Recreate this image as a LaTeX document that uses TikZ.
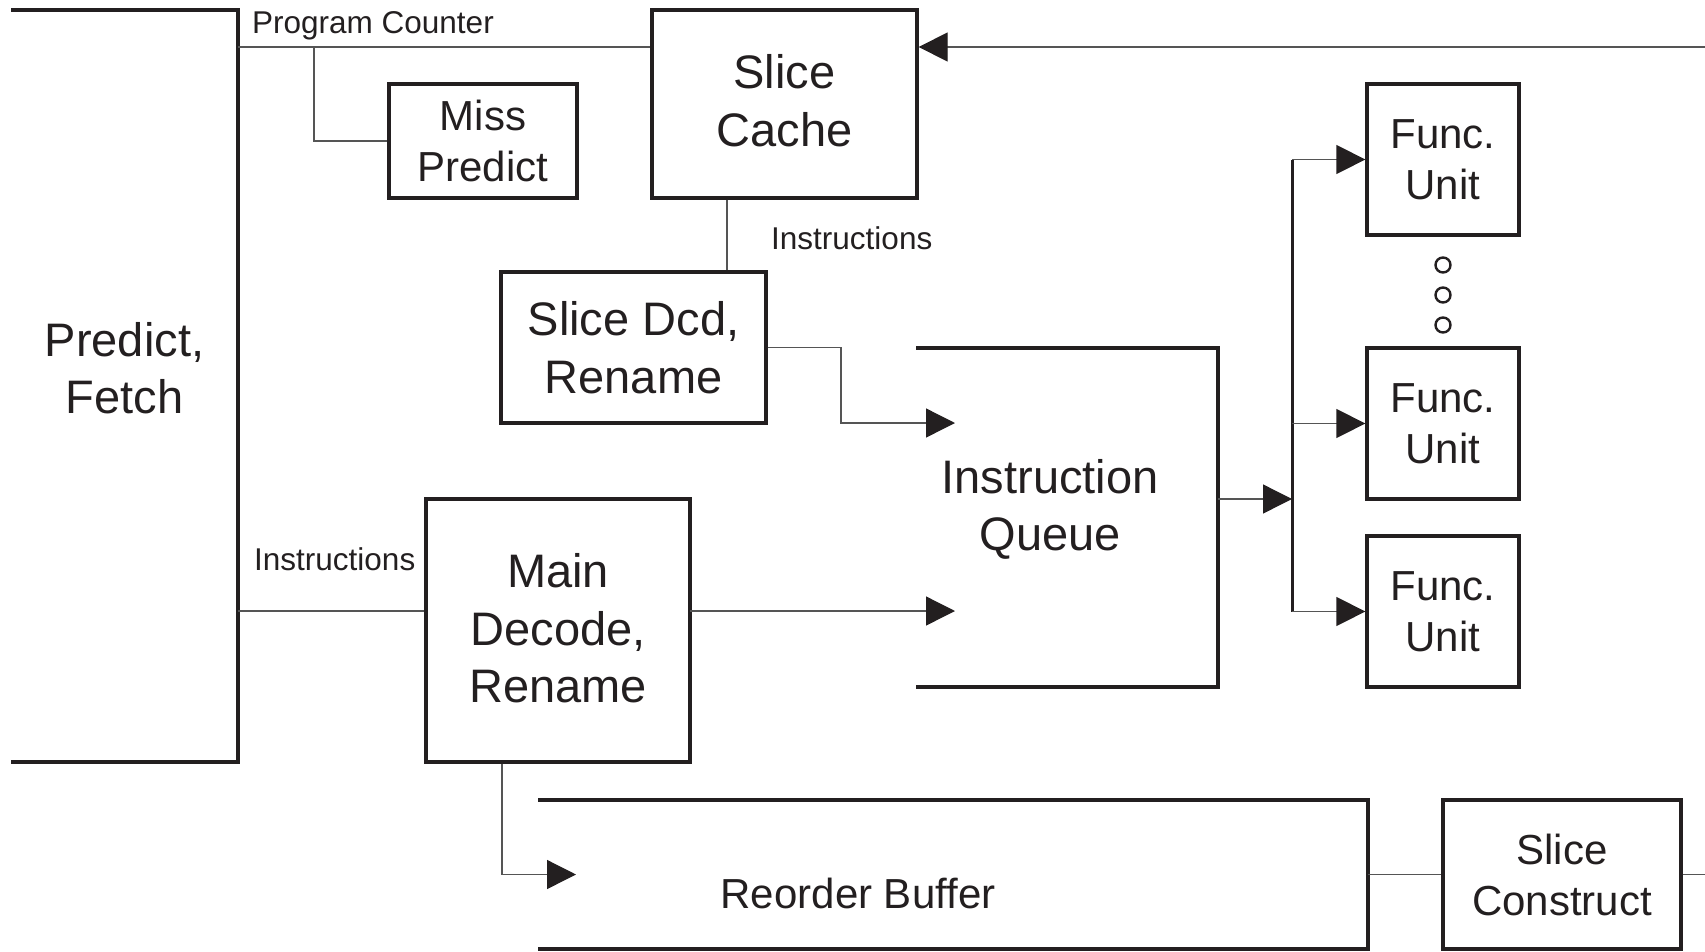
\documentclass[tikz,border=0pt]{standalone}
\usepackage{fontspec}
\setmainfont{Liberation Sans}
\usetikzlibrary{arrows.meta,calc}
\definecolor{ink}{HTML}{231F20}
\definecolor{wirec}{HTML}{555555}
\tikzset{
  box/.style={draw=ink, line width=3.3pt, rectangle, inner sep=0pt, align=center, text=ink},
  big/.style={font=\fontsize{47}{57.6}\selectfont, text=ink, align=center},
  mid/.style={font=\fontsize{42}{51}\selectfont, text=ink, align=center},
  small/.style={font=\fontsize{31.5}{36}\selectfont, text=ink, inner sep=0pt},
  wire/.style={draw=wirec, line width=1.3pt},
  bus/.style={draw=ink, line width=3pt},
  arr/.style={wire, -{Triangle[length=29pt,width=29pt,color=ink,fill=ink]}},
  frame/.style={draw=ink, line width=3.3pt},
  dot/.style={circle, draw=ink, line width=2.4pt, minimum size=15pt, inner sep=0pt}
}
\begin{document}
\begin{tikzpicture}[x=1pt,y=-1pt]
\useasboundingbox (0,0) rectangle (1705,951);

% open frames
\coordinate (pfTL) at (11,10);
\coordinate (pfTR) at (238,10);
\coordinate (pfBR) at (238,762);
\coordinate (pfBL) at (11,762);
\draw[frame] (pfTL) -- (pfTR) -- (pfBR) -- (pfBL);
\node[big] (pf) at (124.5,368) {Predict,\\Fetch};

\coordinate (iqTL) at (916,348);
\coordinate (iqTR) at (1218,348);
\coordinate (iqBR) at (1218,687);
\coordinate (iqBL) at (916,687);
\draw[frame] (iqTL) -- (iqTR) -- (iqBR) -- (iqBL);
\node[big] (iq) at (1050,509.5) {Instruction\\Queue};

\coordinate (rbTL) at (538,800);
\coordinate (rbTR) at (1368,800);
\coordinate (rbBR) at (1368,949);
\coordinate (rbBL) at (538,949);
\draw[frame] (rbTL) -- (rbTR) -- (rbBR) -- (rbBL);
\node[mid] (rb) at (858,893) {Reorder Buffer};

% boxes
\node[box, mid, minimum width=188pt, minimum height=114pt] (miss) at (483,141) {Miss\\Predict};
\node[box, minimum width=265pt, minimum height=188pt] (sc) at (784.5,104) {};
\node[big] (sct) at (784.5,100.5) {Slice\\Cache};
\node[box, big, minimum width=265pt, minimum height=151pt] (sdr) at (633.5,347.5) {Slice Dcd,\\Rename};
\node[box, minimum width=264pt, minimum height=263pt] (md) at (558,630.5) {};
\node[big] (mdt) at (558,628.5) {Main\\Decode,\\Rename};
\node[box, mid, minimum width=152pt, minimum height=151pt] (fu1) at (1443,159.5) {Func.\\Unit};
\node[box, mid, minimum width=152pt, minimum height=151pt] (fu2) at (1443,423.5) {Func.\\Unit};
\node[box, mid, minimum width=152pt, minimum height=151pt] (fu3) at (1443,611.5) {Func.\\Unit};
\node[box, mid, minimum width=238pt, minimum height=149pt] (scon) at (1562,874.5) {Slice\\Construct};

\node[dot] (d1) at (1443,265) {};
\node[dot] (d2) at (1443,295) {};
\node[dot] (d3) at (1443,325) {};

% labels
\node[small, anchor=west] (pcl) at (252,26) {Program Counter};
\node[small, anchor=west] (ins1) at (771,238) {Instructions};
\node[small, anchor=west] (ins2) at (254,559) {Instructions};

% connectors
\coordinate (pcStart) at (238,47);
\coordinate (pcBranch) at (314,47);
\draw[wire] (pcStart) -- (pcStart -| sc.west);
\draw[wire] (pcBranch) |- (miss.west);

\coordinate (fbStart) at (1705,47);
\draw[arr] (fbStart) -- (fbStart -| sc.east);

\draw[wire] ([xshift=-57.5pt]sc.south) -- ([xshift=-57.5pt]sc.south |- sdr.north);

\coordinate (sdrBend) at (841,347.5);
\coordinate (iqIn1) at (955,423);
\draw[arr] (sdr.east) -- (sdrBend) |- (iqIn1);

\coordinate (pfOut) at (238,611);
\draw[wire] (pfOut) -- (pfOut -| md.west);

\coordinate (mdOut) at (690,611);
\coordinate (iqIn2) at (955,611);
\draw[arr] (mdOut) -- (iqIn2);

\coordinate (rbIn) at (576,874.5);
\draw[arr] ([xshift=-56pt]md.south) |- (rbIn);

\coordinate (iqOut) at (1218,499);
\coordinate (busTop) at (1292,160);
\coordinate (busBot) at (1292,611.5);
\draw[bus] (busTop) -- (busBot);
\draw[arr] (iqOut) -- (iqOut -| busTop);
\draw[arr] (busTop |- fu1.west) -- (fu1.west);
\draw[arr] (busTop |- fu2.west) -- (fu2.west);
\draw[arr] (busTop |- fu3.west) -- (fu3.west);

\coordinate (rbOut) at (1368,874.5);
\draw[wire] (rbOut) -- (scon.west);
\coordinate (scOut) at (1705,874.5);
\draw[wire] (scon.east) -- (scOut);
\end{tikzpicture}
\end{document}
